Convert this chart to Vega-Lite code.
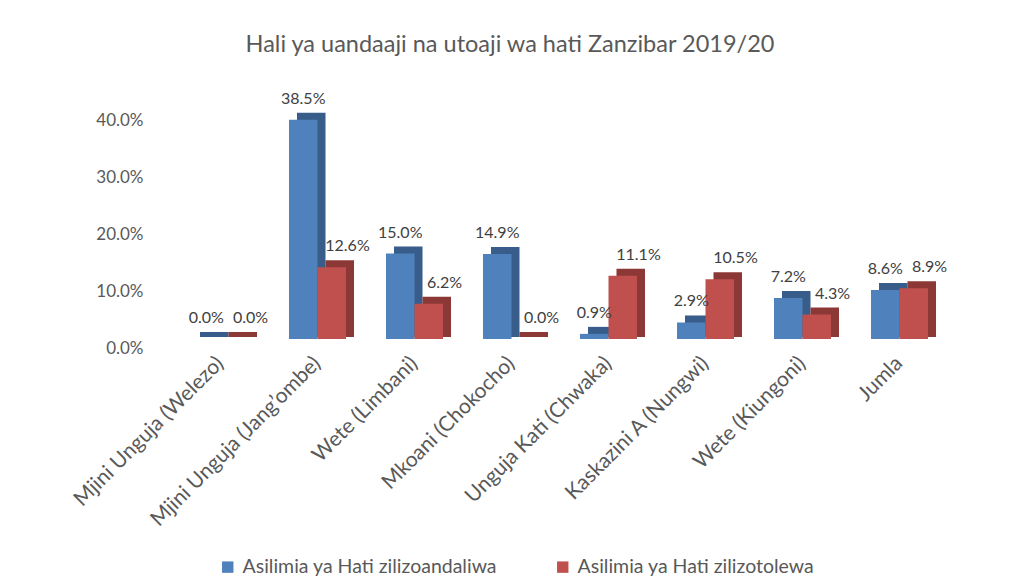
{
  "$schema": "https://vega.github.io/schema/vega-lite/v6.json",
  "width": 776,
  "height": 245,
  "autosize": {"type": "none"},
  "padding": {"left": 172, "top": 94, "right": 67, "bottom": 240},
  "background": "white",
  "config": {"view": {"stroke": null}, "font": "Lato"},
  "title": {
    "text": "Hali ya uandaaji na utoaji wa hati Zanzibar 2019/20",
    "fontSize": 23.5,
    "font": "Lato",
    "fontWeight": "normal",
    "color": "#595959",
    "offset": 34,
    "dx": -50
  },
  "data": {
    "values": [
      {"eneo": "Mjini Unguja (Welezo)", "kundi": "Asilimia ya Hati zilizoandaliwa", "asilimia": 0.0},
      {"eneo": "Mjini Unguja (Welezo)", "kundi": "Asilimia ya Hati zilizotolewa", "asilimia": 0.0},
      {"eneo": "Mjini Unguja (Jang’ombe)", "kundi": "Asilimia ya Hati zilizoandaliwa", "asilimia": 0.385},
      {"eneo": "Mjini Unguja (Jang’ombe)", "kundi": "Asilimia ya Hati zilizotolewa", "asilimia": 0.126},
      {"eneo": "Wete (Limbani)", "kundi": "Asilimia ya Hati zilizoandaliwa", "asilimia": 0.150},
      {"eneo": "Wete (Limbani)", "kundi": "Asilimia ya Hati zilizotolewa", "asilimia": 0.062},
      {"eneo": "Mkoani (Chokocho)", "kundi": "Asilimia ya Hati zilizoandaliwa", "asilimia": 0.149},
      {"eneo": "Mkoani (Chokocho)", "kundi": "Asilimia ya Hati zilizotolewa", "asilimia": 0.0},
      {"eneo": "Unguja Kati (Chwaka)", "kundi": "Asilimia ya Hati zilizoandaliwa", "asilimia": 0.009},
      {"eneo": "Unguja Kati (Chwaka)", "kundi": "Asilimia ya Hati zilizotolewa", "asilimia": 0.111},
      {"eneo": "Kaskazini A (Nungwi)", "kundi": "Asilimia ya Hati zilizoandaliwa", "asilimia": 0.029},
      {"eneo": "Kaskazini A (Nungwi)", "kundi": "Asilimia ya Hati zilizotolewa", "asilimia": 0.105},
      {"eneo": "Wete (Kiungoni)", "kundi": "Asilimia ya Hati zilizoandaliwa", "asilimia": 0.072},
      {"eneo": "Wete (Kiungoni)", "kundi": "Asilimia ya Hati zilizotolewa", "asilimia": 0.043},
      {"eneo": "Jumla", "kundi": "Asilimia ya Hati zilizoandaliwa", "asilimia": 0.086},
      {"eneo": "Jumla", "kundi": "Asilimia ya Hati zilizotolewa", "asilimia": 0.089}
    ]
  },
  "encoding": {
    "x": {
      "field": "eneo",
      "type": "nominal",
      "sort": null,
      "scale": {"paddingInner": 0.706, "paddingOuter": 0.353},
      "axis": {
        "title": null,
        "labelAngle": -45,
        "labelAlign": "right",
        "labelBaseline": "middle",
        "labelFontSize": 21,
        "labelFont": "Lato",
        "labelColor": "#595959",
        "labelPadding": 21,
        "labelLimit": 300,
        "domain": false,
        "ticks": false,
        "grid": false
      }
    },
    "y": {
      "field": "asilimia",
      "type": "quantitative",
      "scale": {"domain": [0, 0.43], "nice": false},
      "axis": {
        "title": null,
        "format": ".1%",
        "values": [0, 0.1, 0.2, 0.3, 0.4],
        "domain": false,
        "ticks": false,
        "grid": false,
        "labelFontSize": 17,
        "labelFont": "Lato",
        "labelColor": "#595959",
        "offset": 25,
        "labelPadding": 4,
        "labelOffset": 9
      }
    }
  },
  "layer": [
    {
      "transform": [{"filter": "datum.kundi === 'Asilimia ya Hati zilizoandaliwa'"}],
      "mark": {"type": "bar", "color": "#385D8A", "xOffset": -6.25, "yOffset": -7, "y2Offset": -2},
      "encoding": {"y2": {"datum": 0}}
    },
    {
      "transform": [{"filter": "datum.kundi === 'Asilimia ya Hati zilizotolewa'"}],
      "mark": {"type": "bar", "color": "#8C3836", "xOffset": 22.25, "yOffset": -7, "y2Offset": -2},
      "encoding": {"y2": {"datum": 0}}
    },
    {
      "transform": [{"filter": "datum.kundi === 'Asilimia ya Hati zilizoandaliwa'"}],
      "mark": {"type": "bar", "xOffset": -14.25},
      "encoding": {
        "color": {
          "field": "kundi",
          "type": "nominal",
          "scale": {"domain": ["Asilimia ya Hati zilizoandaliwa", "Asilimia ya Hati zilizotolewa"], "range": ["#4F81BD", "#C0504D"]},
          "legend": {
            "title": null,
            "orient": "none",
            "legendX": 46,
            "legendY": 463,
            "direction": "horizontal",
            "symbolType": "square",
            "symbolSize": 130,
            "symbolStrokeWidth": 0,
            "labelFontSize": 19.5,
            "labelFont": "Lato",
            "labelColor": "#595959",
            "labelLimit": 400,
            "columnPadding": 55,
            "labelOffset": 5
          }
        }
      }
    },
    {
      "transform": [{"filter": "datum.kundi === 'Asilimia ya Hati zilizotolewa'"}],
      "mark": {"type": "bar", "xOffset": 14.25},
      "encoding": {
        "color": {"field": "kundi", "type": "nominal"}
      }
    },
    {
      "transform": [{"filter": "datum.kundi === 'Asilimia ya Hati zilizoandaliwa'"}],
      "mark": {"type": "text", "xOffset": -14.25, "dy": -16, "baseline": "alphabetic", "fontSize": 16, "font": "Lato", "color": "#404040"},
      "encoding": {
        "text": {"field": "asilimia", "type": "quantitative", "format": ".1%"}
      }
    },
    {
      "transform": [{"filter": "datum.kundi === 'Asilimia ya Hati zilizotolewa'"}],
      "mark": {"type": "text", "xOffset": 30, "dy": -16, "baseline": "alphabetic", "fontSize": 16, "font": "Lato", "color": "#404040"},
      "encoding": {
        "text": {"field": "asilimia", "type": "quantitative", "format": ".1%"}
      }
    }
  ]
}
